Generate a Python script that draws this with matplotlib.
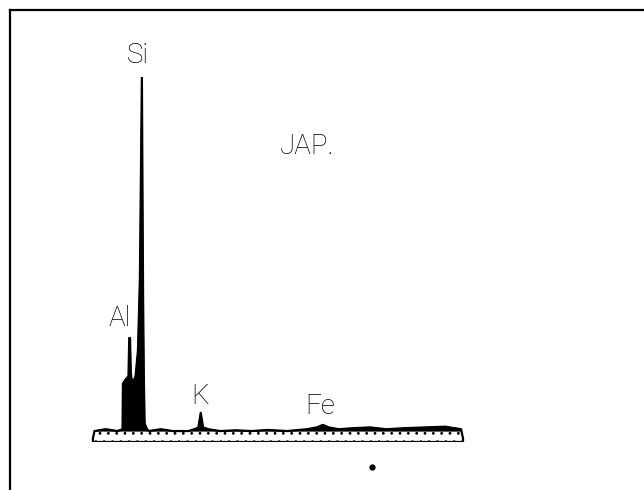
import numpy as np
import matplotlib
matplotlib.use('Agg')
import matplotlib.pyplot as plt
from matplotlib.lines import Line2D

plt.rcParams['hatch.linewidth'] = 0.8

# EDX spectrum trace (energy in keV, relative counts, Si = 100)
energy = [0.58, 0.62, 0.90, 1.20, 1.33, 1.34, 1.40, 1.48, 1.50, 1.52, 1.54,
          1.56, 1.62, 1.66, 1.72, 1.77, 1.82, 1.85, 1.87, 1.89, 1.95, 2.00,
          2.30, 2.60, 3.00, 3.15, 3.25, 3.31, 3.37, 3.50, 3.80, 4.20, 4.60,
          5.00, 5.50, 6.00, 6.25, 6.40, 6.55, 6.80, 7.20, 7.60, 8.00, 8.50,
          9.00, 9.50, 9.90, 9.95]
counts = [1.0, 3.0, 3.5, 3.0, 3.5, 16.0, 17.0, 18.0, 28.5, 28.5, 19.0,
          17.0, 17.0, 18.0, 25.0, 45.0, 100.0, 40.0, 17.0, 5.0, 3.5, 3.0,
          3.5, 3.0, 3.0, 3.5, 4.0, 8.0, 4.0, 3.5, 3.0, 3.2, 3.0,
          3.3, 3.0, 3.5, 4.0, 4.7, 4.0, 3.5, 3.8, 4.0, 3.5, 3.8,
          4.0, 4.2, 3.5, 1.0]

# peak labels (element, energy, count level of label centre)
labels = ['Si', 'Al', 'K', 'Fe']
label_e = [1.71, 1.27, 3.29, 6.33]
label_c = [106.0, 33.7, 12.6, 9.6]
sample_name = 'JAP.'
sample_pos = (6.0, 81.0)

E = np.array(energy)
C = np.array(counts)

fig = plt.figure(figsize=(6.44, 4.90), dpi=100)
fig.patch.set_facecolor('white')

ax = fig.add_axes([70 / 644, 48 / 490, 395 / 644, 365 / 490])
ax.set_xlim(0, 10)
ax.set_ylim(0, 100)
ax.axis('off')

# baseline band: stippled outline
ax.fill_between(E, 0, C, facecolor='white', edgecolor='black',
                hatch='..', linewidth=1.6)
# peaks solid black above the band
ax.fill_between(E, 3.0, C, where=C > 3.0, interpolate=True,
                facecolor='black', edgecolor='black', linewidth=0.8)

for lab, e, c in zip(labels, label_e, label_c):
    ax.text(e, c, lab, ha='center', va='center', fontsize=20,
            family='Roboto', fontweight='light', color='black', clip_on=False)
ax.text(sample_pos[0], sample_pos[1], sample_name, ha='center', va='center',
        fontsize=20, family='Roboto', fontweight='light', color='black')

# stray dot below the spectrum
ax.plot([7.65], [-6.8], 'o', color='black', markersize=3.5, clip_on=False)

# frame of the scanned figure (left and top edges only)
fig.add_artist(Line2D([9.5 / 644, 9.5 / 644], [0, 1 - 10.5 / 490],
                      transform=fig.transFigure, color='black', linewidth=1.6))
fig.add_artist(Line2D([9.5 / 644, 1], [1 - 10.5 / 490, 1 - 10.5 / 490],
                      transform=fig.transFigure, color='black', linewidth=1.6))

fig.savefig('out.png', dpi=100)
